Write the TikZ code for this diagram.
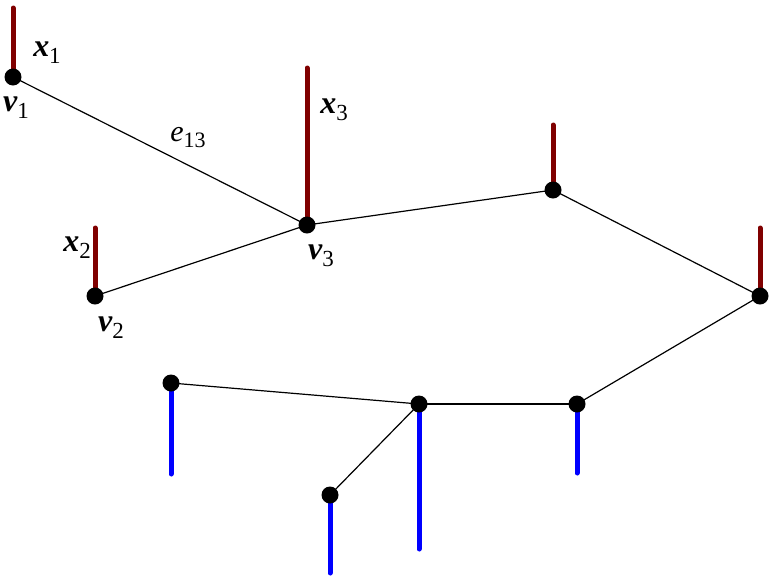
\documentclass[tikz,border=0pt]{standalone}
\usepackage{fontspec}
\setmainfont{Liberation Serif}
\definecolor{stemred}{RGB}{128,0,0}
\newcommand{\lab}[2]{{\bfseries\itshape #1}\raisebox{-7pt}{\fontsize{23}{23}\selectfont #2}}
\tikzset{
  vtx/.style={circle, fill=black, inner sep=0pt, minimum size=17pt},
  upstem/.style={stemred, line width=5pt, line cap=round},
  downstem/.style={blue, line width=5pt, line cap=round},
  link/.style={black, line width=1.2pt},
  lbl/.style={font=\fontsize{32}{34}\selectfont, inner sep=0pt}
}
\begin{document}
\begin{tikzpicture}[x=1pt, y=-1pt]
			\useasboundingbox (0,0) rectangle (771,579);

			% Vertices
			\coordinate (v1) at (13,77);
			\coordinate (v2) at (95,296);
			\coordinate (v3) at (307,225);
			\coordinate (va) at (553,190);
			\coordinate (vb) at (760,296);
			\coordinate (vc) at (577,404);
			\coordinate (vd) at (419,404);
			\coordinate (ve) at (171,383);
			\coordinate (vf) at (330,495);

			% Stem ends
			\coordinate (v1top) at (13,8);
			\coordinate (v2top) at (95,228);
			\coordinate (v3top) at (307,68);
			\coordinate (vatop) at (553,125);
			\coordinate (vbtop) at (760,228);
			\coordinate (vcbot) at (577,473);
			\coordinate (vdbot) at (419,549);
			\coordinate (vebot) at (171,474);
			\coordinate (vfbot) at (330,573);

			% Stems
			\draw[upstem] (v1) -- (v1top);
			\draw[upstem] (v2) -- (v2top);
			\draw[upstem] (v3) -- (v3top);
			\draw[upstem] (va) -- (vatop);
			\draw[upstem] (vb) -- (vbtop);
			\draw[downstem] (vc) -- (vcbot);
			\draw[downstem] (vd) -- (vdbot);
			\draw[downstem] (ve) -- (vebot);
			\draw[downstem] (vf) -- (vfbot);

			% Edges
			\draw[link] (v1) -- (v3);
			\draw[link] (v2) -- (v3);
			\draw[link] (v3) -- (va);
			\draw[link] (va) -- (vb);
			\draw[link] (vb) -- (vc);
			\draw[link] (vc) -- (vd);
			\draw[link] (vd) -- (ve);
			\draw[link] (vd) -- (vf);

			% Dots
			\foreach \v in {v1,v2,v3,va,vb,vc,vd,ve,vf}
				\node[vtx] (n\v) at (\v) {};

			% Labels
			\node[lbl] (lx1) at (47,53) {\lab{x}{1}};
			\node[lbl] (lv1) at (16,108) {\lab{v}{1}};
			\node[lbl] (lx2) at (77,248) {\lab{x}{2}};
			\node[lbl] (lv2) at (111,328) {\lab{v}{2}};
			\node[lbl] (lx3) at (334,110) {\lab{x}{3}};
			\node[lbl] (lv3) at (321,256) {\lab{v}{3}};
			\node[lbl, font=\fontsize{30}{32}\selectfont] (le13) at (188,138) {\textit{e}\raisebox{-6pt}{\fontsize{22}{22}\selectfont 13}};
\end{tikzpicture}
\end{document}
